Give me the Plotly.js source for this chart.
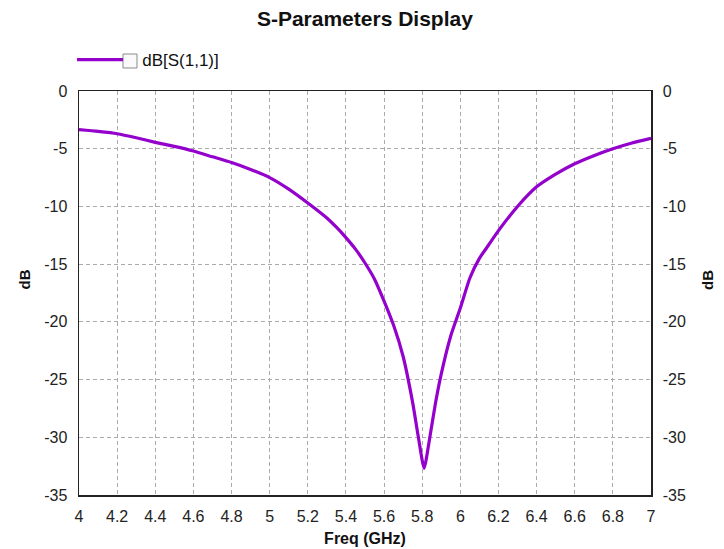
<!DOCTYPE html>
<html>
<head>
<meta charset="utf-8">
<script src="https://cdn.plot.ly/plotly-3.0.1.min.js"></script>
<style>html,body{margin:0;padding:0;background:#fff;}#chart{width:724px;height:549px;}</style>
</head>
<body>
<div id="chart"></div>
<script>
// Frequency (GHz)
var freq = [4.0, 4.1, 4.2, 4.3, 4.4, 4.5, 4.6, 4.7, 4.8, 4.9, 5.0, 5.1, 5.2, 5.3, 5.35, 5.4, 5.45, 5.5, 5.55, 5.6, 5.65, 5.7, 5.75, 5.78, 5.81, 5.84, 5.87, 5.9, 5.95, 6.0, 6.05, 6.1, 6.15, 6.2, 6.3, 6.4, 6.5, 6.6, 6.7, 6.8, 6.9, 7.0];
// dB[S(1,1)]
var s11 = [-3.35, -3.5, -3.7, -4.05, -4.45, -4.8, -5.2, -5.7, -6.2, -6.8, -7.5, -8.5, -9.7, -11.0, -11.8, -12.7, -13.7, -14.9, -16.3, -18.2, -20.3, -23.0, -27.0, -30.0, -32.7, -30.0, -27.0, -24.5, -21.2, -18.8, -16.2, -14.5, -13.3, -12.1, -10.0, -8.3, -7.2, -6.3, -5.6, -5.0, -4.5, -4.1];
var xTicks = [4, 4.2, 4.4, 4.6, 4.8, 5, 5.2, 5.4, 5.6, 5.8, 6, 6.2, 6.4, 6.6, 6.8, 7];
var yTicks = [0, -5, -10, -15, -20, -25, -30, -35];
var seriesName = 'dB[S(1,1)]';

var font = 'Liberation Sans, Arial, sans-serif';
var trace = {
  x: freq, y: s11, type: 'scatter', mode: 'lines', name: '\u00a0\u00a0\u00a0' + seriesName,
  line: {color: '#9400CC', width: 3.2, shape: 'spline', smoothing: 0.5}
};
var rightAxisHolder = {x: [], y: [], type: 'scatter', mode: 'lines', yaxis: 'y2', showlegend: false, hoverinfo: 'skip'};
var gridStyle = {showgrid: true, gridcolor: '#ababab', griddash: '4px,3px', gridwidth: 1};
var yCommon = Object.assign({
  range: [-35, 0], tickvals: yTicks, ticktext: yTicks.map(String),
  zeroline: false, showline: true, linecolor: '#222', linewidth: 1.5,
  ticks: 'outside', ticklen: 7, tickcolor: 'rgba(0,0,0,0)',
  tickfont: {family: font, size: 16, color: '#222'}
}, gridStyle);
var y2 = JSON.parse(JSON.stringify(yCommon));
y2.side = 'right'; y2.overlaying = 'y'; y2.anchor = 'x'; y2.showgrid = false;
var layout = {
  width: 724, height: 549,
  margin: {l: 79, r: 73, t: 91, b: 54},
  paper_bgcolor: '#fff', plot_bgcolor: '#fff',
  title: {text: 'S-Parameters Display', x: 0.504, xanchor: 'center', y: 0.9654, yanchor: 'middle',
          font: {family: font, size: 21, color: '#111', weight: 'bold'}},
  showlegend: true,
  legend: {x: -0.0122, xanchor: 'left', y: 1.0767, yanchor: 'middle', orientation: 'h',
           font: {family: font, size: 17, color: '#111'}, bgcolor: 'rgba(0,0,0,0)', itemwidth: 46},
  xaxis: Object.assign({
    range: [4, 7], tickvals: xTicks, ticktext: xTicks.map(String),
    zeroline: false, showline: true, mirror: true, linecolor: '#222', linewidth: 1.5,
    ticks: 'outside', ticklen: 6, tickcolor: 'rgba(0,0,0,0)',
    tickfont: {family: font, size: 16, color: '#222'},
    title: {text: 'Freq (GHz)', font: {family: font, size: 16, color: '#111', weight: 'bold'}, standoff: 9}
  }, gridStyle),
  yaxis: yCommon,
  yaxis2: y2,
  annotations: [
    {text: 'dB', xref: 'paper', yref: 'paper', x: (23.5 - 79) / 572, y: (495 - 280) / 404, textangle: -90,
     showarrow: false, xanchor: 'center', yanchor: 'middle', font: {family: font, size: 15, color: '#111', weight: 'bold'}},
    {text: 'dB', xref: 'paper', yref: 'paper', x: (707 - 79) / 572, y: (495 - 280) / 404, textangle: -90,
     showarrow: false, xanchor: 'center', yanchor: 'middle', font: {family: font, size: 15, color: '#111', weight: 'bold'}}
  ],
  shapes: [
    {type: 'rect', xref: 'paper', yref: 'paper', x0: (123 - 79) / 572, x1: (137 - 79) / 572,
     y0: (495 - 68) / 404, y1: (495 - 54) / 404, line: {color: '#8a8a8a', width: 1}, fillcolor: '#fafafa', layer: 'above'}
  ]
};
Plotly.newPlot('chart', [trace, rightAxisHolder], layout, {displayModeBar: false, staticPlot: true});
</script>
</body>
</html>
